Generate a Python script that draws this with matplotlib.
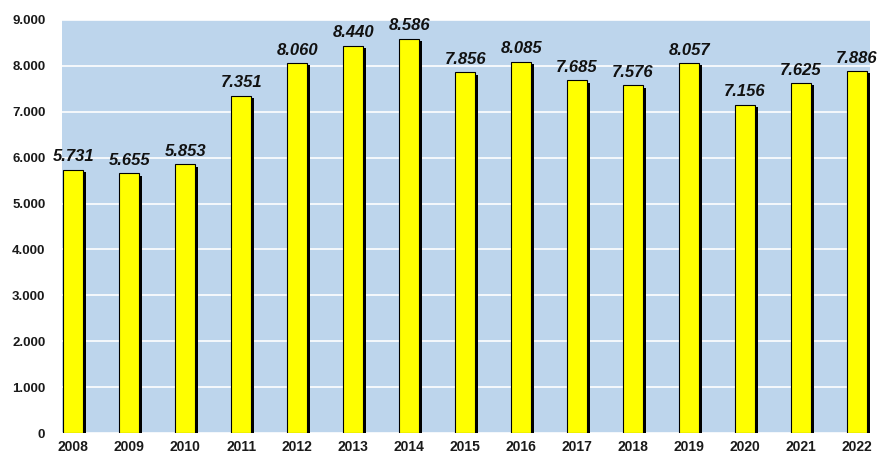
import matplotlib
matplotlib.use("Agg")
import matplotlib.pyplot as plt
import matplotlib.patheffects as pe
from matplotlib.ticker import FuncFormatter

years = ["2008", "2009", "2010", "2011", "2012", "2013", "2014", "2015",
         "2016", "2017", "2018", "2019", "2020", "2021", "2022"]
values = [5731, 5655, 5853, 7351, 8060, 8440, 8586, 7856,
          8085, 7685, 7576, 8057, 7156, 7625, 7886]
y_ticks = [0, 1000, 2000, 3000, 4000, 5000, 6000, 7000, 8000, 9000]

plt.rcParams["font.family"] = ["Liberation Sans", "DejaVu Sans"]

fig = plt.figure(figsize=(8.8, 4.55), dpi=100)
ax = fig.add_axes([62 / 880, 22 / 455, 808 / 880, 413 / 455])
ax.set_facecolor("#BDD5EC")

x = list(range(len(years)))
bars = ax.bar(x, values, width=0.36, color="#FFFF00", edgecolor="black",
              linewidth=0.8, zorder=3)
for b in bars:
    b.set_path_effects([
        pe.SimplePatchShadow(offset=(2.2, -1.6), shadow_rgbFace="black", alpha=1.0),
        pe.Normal(),
    ])

def thousands(v):
    v = int(round(v))
    return "0" if v == 0 else f"{v // 1000}.{v % 1000:03d}"

for xi, v in zip(x, values):
    ax.annotate(thousands(v), (xi, v), xytext=(0, 4), textcoords="offset points",
                ha="center", va="bottom", fontsize=12, fontweight="bold",
                fontstyle="italic", color="#111111", zorder=4)

ax.set_xlim(-0.2, 14.23)
ax.set_ylim(0, 9000)
ax.set_yticks(y_ticks)
ax.yaxis.set_major_formatter(FuncFormatter(lambda v, p: thousands(v)))
ax.set_xticks(x)
ax.set_xticklabels(years)
ax.grid(axis="y", color="white", linewidth=1.2, zorder=1)
ax.set_axisbelow(True)
for s in ax.spines.values():
    s.set_visible(False)
ax.tick_params(axis="both", length=0, colors="#1a1a1a")
ax.tick_params(axis="y", pad=12, labelsize=9.5)
ax.tick_params(axis="x", pad=5, labelsize=10)
for lbl in ax.get_xticklabels() + ax.get_yticklabels():
    lbl.set_fontweight("bold")

fig.savefig("out.png", dpi=100, facecolor="white")
